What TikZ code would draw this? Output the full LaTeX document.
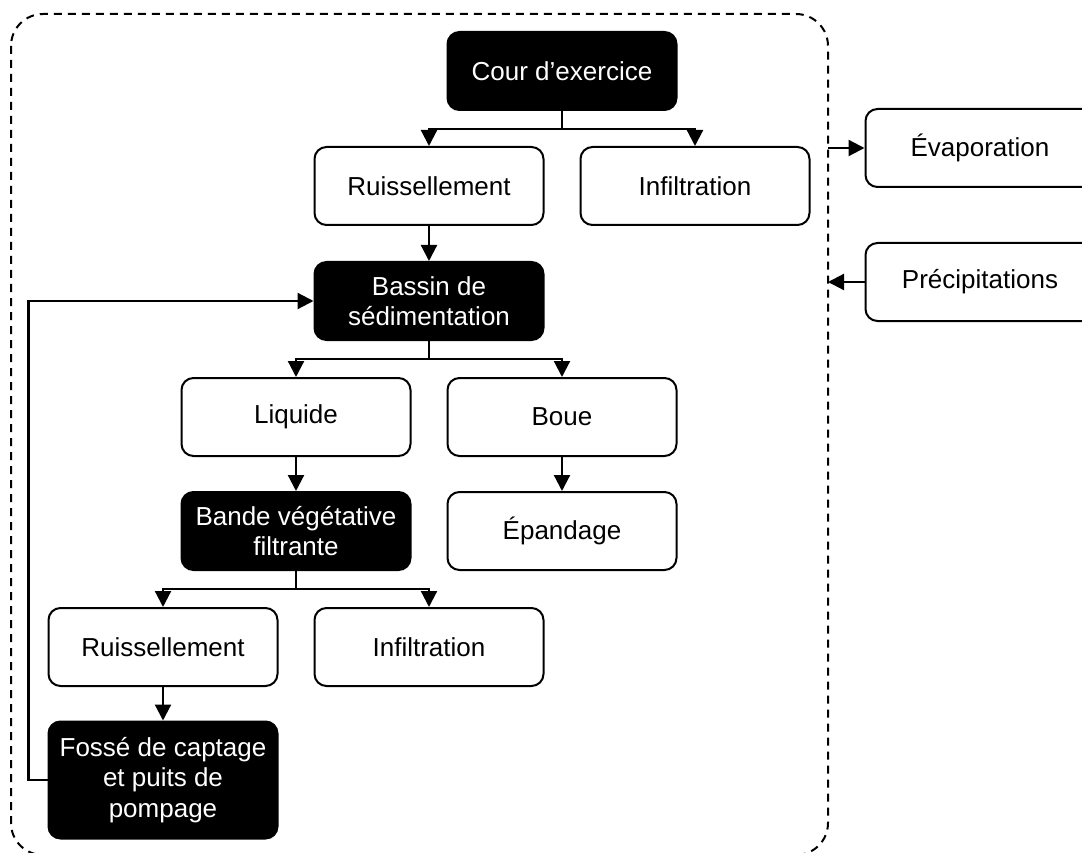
\documentclass[tikz,border=0pt]{standalone}
\usepackage{fontspec}
\setmainfont{Liberation Sans}
\usetikzlibrary{arrows.meta}
\begin{document}
\begin{tikzpicture}[x=1pt,y=-1pt,
  box/.style={draw=black,line width=2pt,rounded corners=12pt,minimum width=229pt,minimum height=78pt,inner sep=0pt,align=center,font=\fontsize{26}{30.5}\selectfont,fill=white},
  darkbox/.style={box,fill=black,text=white},
  arr/.style={line width=2.2pt,-{Triangle[length=16pt,width=16pt]}},
  frame/.style={line width=2pt,dash pattern=on 8pt off 6pt,rounded corners=32pt}]
\clip (0,0) rectangle (1082,853);
\fill[white] (0,0) rectangle (1082,853);
\draw[frame] (11,14) rectangle (828,855);
\node[darkbox] (cour) at (562,71) {Cour d’exercice};
\node[box] (ruis1) at (429,186) {Ruissellement};
\node[box] (infil1) at (695,186) {Infiltration};
\node[box] (evap) at (980,148) {Évaporation};
\node[box] (precip) at (980,282) {Précipitations};
\node[darkbox] (bassin) at (429,301) {Bassin de\\sédimentation};
\node[box] (liquide) at (296,417) {Liquide};
\node[box] (boue) at (562,417) {Boue};
\node[darkbox] (bande) at (296,531) {Bande végétative\\filtrante};
\node[box] (epandage) at (562,531) {Épandage};
\node[box] (ruis2) at (163,647) {Ruissellement};
\node[box] (infil2) at (429,647) {Infiltration};
\node[darkbox,minimum height=117pt] (fosse) at (163,780) {Fossé de captage\\et puits de\\pompage};
\coordinate (e1) at (828,148);
\coordinate (p1) at (828,282);
\draw[arr] (cour.south) -- ++(0,18) -| (ruis1.north);
\draw[arr] (cour.south) -- ++(0,18) -| (infil1.north);
\draw[arr] (ruis1.south) -- (bassin.north);
\draw[arr] (bassin.south) -- ++(0,18) -| (liquide.north);
\draw[arr] (bassin.south) -- ++(0,18) -| (boue.north);
\draw[arr] (liquide.south) -- (bande.north);
\draw[arr] (boue.south) -- (epandage.north);
\draw[arr] (bande.south) -- ++(0,18) -| (ruis2.north);
\draw[arr] (bande.south) -- ++(0,18) -| (infil2.north);
\draw[arr] (ruis2.south) -- (fosse.north);
\draw[arr] (fosse.west) -- ++(-19,0) |- (bassin.west);
\draw[arr] (e1) -- (evap.west);
\draw[arr] (precip.west) -- (p1);
\end{tikzpicture}
\end{document}
